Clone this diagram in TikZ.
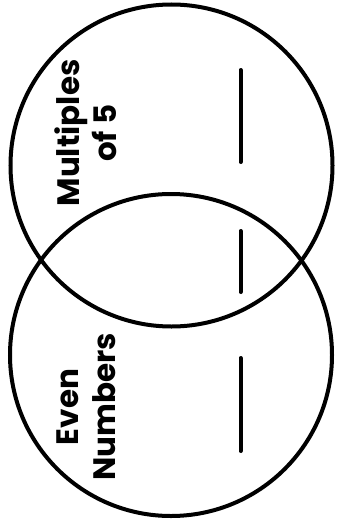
\documentclass[tikz,border=0pt]{standalone}
\usepackage{fontspec}
\newfontfamily\vennfont{Poppins}
\usetikzlibrary{calc,positioning}

\begin{document}
\begin{tikzpicture}[x=1pt,y=-1pt,
        ring/.style={line width=4pt},
        blank/.style={line width=4pt, line cap=round},
        setlabel/.style={rotate=90, align=center, inner sep=0pt,
            font=\vennfont\bfseries\fontsize{31}{37}\selectfont}]
                \useasboundingbox (0,0) rectangle (337,527);
                \def\r{161}
                \coordinate (c1) at (171.5, 165.5);
                \coordinate (c2) at (171, 355);
                \coordinate (l1a) at (240.5, 70);
                \coordinate (l1b) at (240.5, 162);
                \coordinate (l2a) at (240.5, 231);
                \coordinate (l2b) at (240.5, 292);
                \coordinate (l3a) at (240.5, 358);
                \coordinate (l3b) at (240.5, 451);
                \draw[ring] (c1) circle (\r);
                \draw[ring] (c2) circle (\r);
                \draw[blank] (l1a) -- (l1b);
                \draw[blank] (l2a) -- (l2b);
                \draw[blank] (l3a) -- (l3b);
                \node[setlabel] (mult) at (86, 133) {Multiples\\of 5};
                \node[setlabel] (even) at (86, 407) {Even\\Numbers};
            \end{tikzpicture}
\end{document}
